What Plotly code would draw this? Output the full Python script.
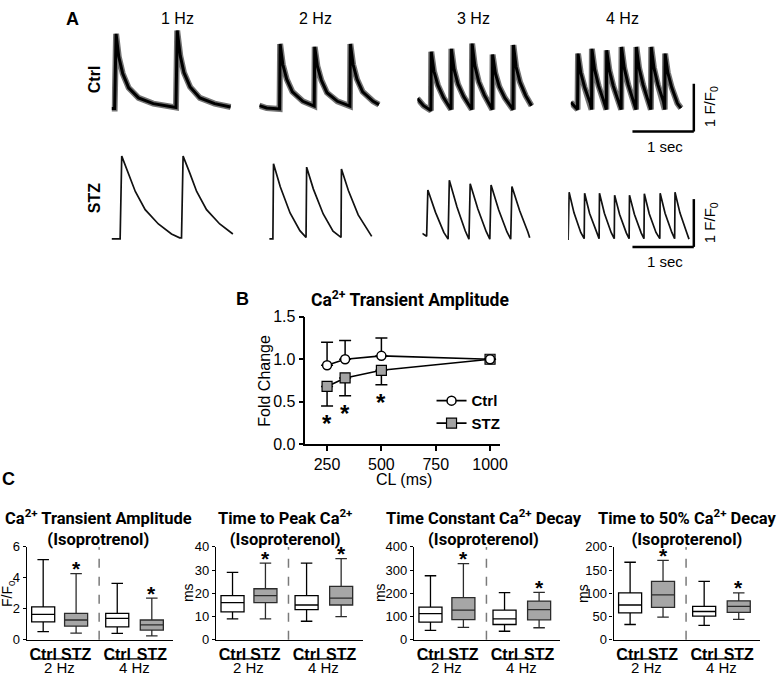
import plotly.graph_objects as go

W, H = 781, 682
SANS = "Liberation Sans, Arial, Helvetica, sans-serif"
TITLE = "Roboto, Liberation Sans, Arial, sans-serif"

# ---------------- Panel A : Ca2+ transients (time s, F/F0 above baseline) ----------------
frequencies = ["1 Hz", "2 Hz", "3 Hz", "4 Hz"]
groups = ["Ctrl", "STZ"]

ctrl_1hz_t = [0, 0.05, 0.074, 0.118, 0.182, 0.279, 0.44, 0.68, 1.05, 1.07, 1.12, 1.18, 1.28, 1.44, 1.68, 1.94]
ctrl_1hz_f = [0.0, 0.0, 1.56, 1.08, 0.73, 0.43, 0.22, 0.10, 0.02, 1.63, 1.10, 0.75, 0.45, 0.22, 0.10, 0.03]

ctrl_2hz_t = [0, 0.12, 0.33, 0.339, 0.383, 0.447, 0.539, 0.709, 0.895, 0.903, 0.947, 1.011, 1.103, 1.273,
              1.476, 1.484, 1.528, 1.592, 1.684, 1.854, 1.95]
ctrl_2hz_f = [0.10, 0.05, 0.03, 1.39, 0.96, 0.65, 0.39, 0.19, 0.09, 1.33, 0.92, 0.63, 0.37, 0.19,
              0.09, 1.39, 0.96, 0.65, 0.39, 0.19, 0.12]

ctrl_3hz_t = [0, 0.1, 0.22, 0.226, 0.27, 0.334, 0.426, 0.548, 0.554, 0.598, 0.662, 0.754, 0.886, 0.892,
              0.936, 1.0, 1.092, 1.22, 1.226, 1.27, 1.334, 1.426, 1.559, 1.565, 1.609, 1.673, 1.765, 1.86]
ctrl_3hz_f = [0.35, 0.2, 0.1, 1.33, 0.92, 0.63, 0.37, 0.12, 1.39, 0.96, 0.65, 0.39, 0.12, 1.50,
              1.04, 0.70, 0.42, 0.12, 1.27, 0.88, 0.60, 0.36, 0.12, 1.47, 1.01, 0.69, 0.41, 0.2]

ctrl_4hz_t = [0, 0.11, 0.118, 0.162, 0.226, 0.318, 0.338, 0.344, 0.388, 0.452, 0.544, 0.579, 0.585, 0.629,
              0.693, 0.785, 0.821, 0.827, 0.871, 0.935, 1.027, 1.063, 1.069, 1.113, 1.177, 1.269, 1.305,
              1.311, 1.355, 1.419, 1.511, 1.531, 1.537, 1.581, 1.645, 1.737, 1.795]
ctrl_4hz_f = [0.27, 0.12, 1.29, 0.89, 0.58, 0.25, 0.12, 1.39, 0.96, 0.62, 0.27, 0.12, 1.36, 0.94,
              0.61, 0.26, 0.12, 1.43, 0.99, 0.64, 0.28, 0.12, 1.43, 0.99, 0.64, 0.28, 0.12,
              1.43, 0.99, 0.64, 0.28, 0.12, 1.29, 0.89, 0.58, 0.25, 0.15]

stz_1hz_t = [0, 0.14, 0.166, 0.28, 0.387, 0.548, 0.763, 0.977, 1.11, 1.14, 1.166, 1.28, 1.387, 1.548, 1.763, 1.977]
stz_1hz_f = [0.0, 0.0, 1.73, 1.36, 0.99, 0.61, 0.31, 0.10, 0.02, 0.02, 1.73, 1.36, 0.99, 0.61, 0.31, 0.10]

stz_2hz_t = [0, 0.06, 0.07, 0.18, 0.34, 0.50, 0.60, 0.61, 0.72, 0.88, 1.04, 1.17, 1.177, 1.29, 1.45, 1.61, 1.67]
stz_2hz_f = [0.0, 0.0, 1.57, 1.09, 0.54, 0.17, 0.03, 1.50, 1.04, 0.52, 0.16, 0.03, 1.46, 1.01, 0.50, 0.16, 0.05]

stz_3hz_t = [0, 0.07, 0.09, 0.215, 0.35, 0.42, 0.44, 0.565, 0.70, 0.76, 0.78, 0.905, 1.04, 1.10, 1.12,
             1.245, 1.38, 1.44, 1.46, 1.585, 1.72, 1.75]
stz_3hz_f = [0.14, 0.08, 1.05, 0.58, 0.16, 0.02, 1.25, 0.69, 0.19, 0.02, 1.18, 0.65, 0.18, 0.02, 1.15,
             0.63, 0.17, 0.02, 1.12, 0.62, 0.17, 0.05]

stz_4hz_t = [0, 0.016, 0.096, 0.206, 0.262, 0.269, 0.349, 0.459, 0.505, 0.511, 0.591, 0.701, 0.752, 0.758,
             0.838, 0.948, 0.994, 1.0, 1.08, 1.19, 1.236, 1.242, 1.322, 1.432, 1.494, 1.5, 1.58, 1.69,
             1.736, 1.742, 1.822, 1.932, 1.97]
stz_4hz_f = [0.0, 1.0, 0.57, 0.16, 0.03, 0.98, 0.56, 0.16, 0.03, 0.98, 0.56, 0.16, 0.03, 0.94,
             0.54, 0.15, 0.03, 0.94, 0.54, 0.15, 0.03, 0.97, 0.55, 0.16, 0.03, 0.98, 0.56, 0.16,
             0.03, 1.0, 0.57, 0.16, 0.02]

# ---------------- Panel B : fold change of amplitude vs cycle length ----------------
cl_ms = [250, 333, 500, 1000]
ctrl_fold = [0.93, 1.00, 1.04, 1.00]
ctrl_err_up = [0.27, 0.22, 0.21, 0.0]
stz_fold = [0.68, 0.78, 0.87, 1.00]
stz_err_down = [0.23, 0.21, 0.17, 0.0]
b_significant = [True, True, True, False]

# ---------------- Panel C : box plots (Ctrl 2Hz, STZ 2Hz, Ctrl 4Hz, STZ 4Hz) ----------------
box_groups = ["Ctrl", "STZ", "Ctrl", "STZ"]
freq_groups = ["2 Hz", "4 Hz"]
c_titles = ["Ca<sup>2+</sup> Transient Amplitude<br>(Isoprotrenol)",
            "Time to Peak Ca<sup>2+</sup><br>(Isoproterenol)",
            "Time Constant Ca<sup>2+</sup> Decay<br>(Isoproterenol)",
            "Time to 50% Ca<sup>2+</sup> Decay<br>(Isoproterenol)"]
c_units = ["F/F<sub>0</sub>", "ms", "ms", "ms"]
c_ymax = [6, 40, 400, 200]
c_dtick = [2, 10, 100, 50]

amp_min = [0.53, 0.44, 0.42, 0.25]
amp_q1 = [1.16, 0.88, 0.84, 0.63]
amp_med = [1.64, 1.28, 1.39, 0.97]
amp_q3 = [2.13, 1.71, 1.71, 1.28]
amp_max = [5.18, 4.27, 3.64, 2.69]

ttp_min = [9, 9, 8, 10]
ttp_q1 = [12, 16, 13, 15]
ttp_med = [16, 19, 15, 18]
ttp_q3 = [19, 22, 19, 23]
ttp_max = [29, 33, 33, 35]

tau_min = [41, 54, 37, 52]
tau_q1 = [76, 87, 66, 86]
tau_med = [113, 128, 90, 130]
tau_q3 = [141, 182, 128, 167]
tau_max = [276, 328, 203, 204]

t50_min = [33, 49, 31, 44]
t50_q1 = [58, 70, 51, 59]
t50_med = [75, 97, 61, 72]
t50_q3 = [101, 126, 72, 84]
t50_max = [167, 171, 126, 101]

c_significant = [False, True, False, True]

# ======================================================================
def PX(x):
    return x / W

def PY(y):
    return 1 - y / H

fig = go.Figure()
layout = {}
annotations = []
shapes = []

def ann(text, x, y, xref="paper", yref="paper", size=14, family=SANS, **kw):
    d = dict(text=text, x=x, y=y, xref=xref, yref=yref, showarrow=False,
             xanchor="center", yanchor="middle", font=dict(size=size, family=family, color="black"))
    d.update(kw)
    annotations.append(d)

def ax_names(i):
    return ("xaxis" if i == 1 else f"xaxis{i}", "yaxis" if i == 1 else f"yaxis{i}",
            "x" if i == 1 else f"x{i}", "y" if i == 1 else f"y{i}")

# ---------- Panel A layout ----------
PX_PER_S, PX_PER_F = 62.0, 49.0
trace_sets = {
    "Ctrl": [(ctrl_1hz_t, ctrl_1hz_f), (ctrl_2hz_t, ctrl_2hz_f), (ctrl_3hz_t, ctrl_3hz_f), (ctrl_4hz_t, ctrl_4hz_f)],
    "STZ": [(stz_1hz_t, stz_1hz_f), (stz_2hz_t, stz_2hz_f), (stz_3hz_t, stz_3hz_f), (stz_4hz_t, stz_4hz_f)],
}
a_x0 = {"Ctrl": [112.7, 262, 421.7, 576.7], "STZ": [112.7, 272, 426.7, 574]}
a_base = {"Ctrl": [103, 105, 110, 110], "STZ": [236.7, 236.7, 238, 238]}
a_rows = {"Ctrl": (8, 130), "STZ": (138, 252)}
span_s = 2.0

idx = 1
for g in groups:
    top, bot = a_rows[g]
    for k, (t, f) in enumerate(trace_sets[g]):
        xa, ya, xr, yr = ax_names(idx)
        x0 = a_x0[g][k]
        base = a_base[g][k]
        layout[xa] = dict(domain=[PX(x0), PX(x0 + span_s * PX_PER_S)], range=[0, span_s],
                          visible=False, anchor=yr)
        layout[ya] = dict(domain=[PY(bot), PY(top)],
                          range=[-(bot - base) / PX_PER_F, (base - top) / PX_PER_F],
                          visible=False, anchor=xr)
        if g == "Ctrl":
            fig.add_trace(go.Scatter(x=t, y=f, mode="lines", xaxis=xr, yaxis=yr,
                                     line=dict(color="rgba(0,0,0,0.55)", width=6),
                                     showlegend=False, hoverinfo="skip"))
            fig.add_trace(go.Scatter(x=t, y=f, mode="lines", xaxis=xr, yaxis=yr,
                                     line=dict(color="black", width=3),
                                     showlegend=False))
        else:
            fig.add_trace(go.Scatter(x=t, y=f, mode="lines", xaxis=xr, yaxis=yr,
                                     line=dict(color="#111", width=1.7),
                                     showlegend=False))
        idx += 1

# panel A texts
ann("<b>A</b>", PX(73), PY(11), size=18)
for fq, cx in zip(frequencies, [179, 319, 478, 629]):
    ann(fq, PX(cx), PY(11), size=16)
for g, cy in zip(groups, [73, 195]):
    ann(f"<b>{g}</b>", PX(95), PY(cy), size=16, textangle=-90)
# scale bars (1 s, 1 F/F0)
for bar_y, lab_y, sec_y in [(126.7, 101, 142), (245, 220, 260)]:
    shapes.append(dict(type="line", xref="paper", yref="paper", x0=PX(701 - PX_PER_S), x1=PX(701),
                       y0=PY(bar_y), y1=PY(bar_y), line=dict(color="black", width=2.5)))
    shapes.append(dict(type="line", xref="paper", yref="paper", x0=PX(701), x1=PX(701),
                       y0=PY(bar_y), y1=PY(bar_y - PX_PER_F), line=dict(color="black", width=2.5)))
    ann("1 F/F<sub>0</sub>", PX(718), PY(lab_y), size=15, textangle=-90)
    ann("1 sec", PX(672), PY(sec_y), size=15)

# ---------- Panel B ----------
bi = 9
xa, ya, xr, yr = ax_names(bi)
axis_common = dict(showline=True, linecolor="black", linewidth=1.5, ticks="outside", ticklen=5,
                   tickwidth=1.5, tickcolor="black", showgrid=False, zeroline=False)
layout[xa] = dict(domain=[PX(308.5), PX(505)], range=[150, 1045], anchor=yr,
                  tickvals=[250, 500, 750, 1000], tickfont=dict(size=16, family=SANS),
                  ticklabelstandoff=0, **axis_common)
layout[ya] = dict(domain=[PY(447.3), PY(316.7)], range=[0, 1.5], anchor=xr,
                  tickvals=[0, 0.5, 1.0, 1.5], tickformat=".1f", tickfont=dict(size=16, family=SANS),
                  **axis_common)

fig.add_trace(go.Scatter(x=cl_ms, y=stz_fold, mode="lines+markers", name="<b>STZ</b>", xaxis=xr, yaxis=yr,
                         line=dict(color="black", width=1.6),
                         marker=dict(symbol="square", size=10, color="#a3a3a3", line=dict(color="black", width=1.2)),
                         error_y=dict(type="data", symmetric=False, array=[0] * len(cl_ms),
                                      arrayminus=stz_err_down, color="black", thickness=1.5, width=6),
                         legendrank=2))
fig.add_trace(go.Scatter(x=cl_ms, y=ctrl_fold, mode="lines+markers", name="<b>Ctrl</b>", xaxis=xr, yaxis=yr,
                         line=dict(color="black", width=1.6),
                         marker=dict(symbol="circle", size=9, color="white", line=dict(color="black", width=1.5)),
                         error_y=dict(type="data", symmetric=False, array=ctrl_err_up,
                                      arrayminus=[0] * len(cl_ms), color="black", thickness=1.5, width=6),
                         legendrank=1))
for x, y, e, s in zip(cl_ms, stz_fold, stz_err_down, b_significant):
    if s:
        ann("<b>*</b>", x, y - e, xref=xr, yref=yr, size=24, yshift=-18)
ann("<b>B</b>", PX(245), PY(298), size=18)
ann("<b>Ca<sup>2+</sup> Transient Amplitude</b>", PX(414), PY(298), size=17.5, family=TITLE)
ann("Fold Change", PX(267), PY(382), size=16, textangle=-90)
ann("CL (ms)", PX(408), PY(484), size=16)

# ---------- Panel C ----------
box_pos = [0, 1, 2.25, 3.3]
divider = 1.7
c_stats = [
    (amp_min, amp_q1, amp_med, amp_q3, amp_max),
    (ttp_min, ttp_q1, ttp_med, ttp_q3, ttp_max),
    (tau_min, tau_q1, tau_med, tau_q3, tau_max),
    (t50_min, t50_q1, t50_med, t50_q3, t50_max),
]
c_axis_x = [27, 218.3, 418.3, 620]
c_width_px = 148
c_title_x = [100, 288, 489, 695]
c_unit_x = [8, 190, 384, 589]
c_top, c_bot = 552.7, 648

for p in range(4):
    i = 10 + p
    xa, ya, xr, yr = ax_names(i)
    layout[xa] = dict(domain=[PX(c_axis_x[p]), PX(c_axis_x[p] + c_width_px)], range=[-0.5, 3.95], anchor=yr,
                      showline=True, linecolor="black", linewidth=1.3, ticks="", showgrid=False, zeroline=False,
                      tickvals=box_pos, ticktext=[f"<b>{g}</b>" for g in box_groups],
                      tickfont=dict(size=16, family=SANS), ticklabelstandoff=0)
    layout[ya] = dict(domain=[PY(c_bot), PY(c_top)], range=[0, c_ymax[p]], anchor=xr, dtick=c_dtick[p],
                      showline=True, linecolor="black", linewidth=1.3, ticks="outside", ticklen=3,
                      tickwidth=1.3, tickcolor="black", showgrid=False, zeroline=False,
                      tickfont=dict(size=13, family=SANS), ticklabelstandoff=0)
    mn, q1, md, q3, mx = c_stats[p]
    for j in range(4):
        stz = box_groups[j] == "STZ"
        fig.add_trace(go.Box(x=[box_pos[j]], q1=[q1[j]], median=[md[j]], q3=[q3[j]],
                             lowerfence=[mn[j]], upperfence=[mx[j]], orientation="v",
                             xaxis=xr, yaxis=yr, width=0.7, whiskerwidth=0.5, boxpoints=False,
                             fillcolor="#a6a6a6" if stz else "white",
                             line=dict(color="#2b2b2b" if stz else "black", width=1.3),
                             showlegend=False))
        if c_significant[j]:
            ann("<b>*</b>", box_pos[j], mx[j], xref=xr, yref=yr, size=21, yshift=5)
    shapes.append(dict(type="line", xref=xr, yref=f"{yr} domain", x0=divider, x1=divider, y0=0, y1=1,
                       line=dict(color="#7a7a7a", width=1.5, dash="dash")))
    for gi, fq in enumerate(freq_groups):
        a, b = box_pos[2 * gi], box_pos[2 * gi + 1]
        shapes.append(dict(type="line", xref=xr, yref="paper", x0=a - 0.36, x1=b + 0.38,
                           y0=PY(667.5), y1=PY(667.5), line=dict(color="black", width=1.3)))
        ann(fq, (a + b) / 2, PY(676), xref=xr, yref="paper", size=15)
    ann(f"<b>{c_titles[p]}</b>", PX(c_title_x[p]), PY(533), size=16.5, family=TITLE)
    ann(c_units[p], PX(c_unit_x[p]), PY(600), size=14, textangle=-90)

ann("<b>C</b>", PX(9), PY(483), size=18)

layout.update(dict(
    width=W, height=H, margin=dict(l=0, r=0, t=0, b=0),
    paper_bgcolor="white", plot_bgcolor="white",
    font=dict(family=SANS, color="black"),
    boxmode="overlay",
    showlegend=True,
    legend=dict(x=PX(436), y=PY(386), xanchor="left", yanchor="top", bgcolor="rgba(0,0,0,0)",
                font=dict(size=15, family=SANS), itemwidth=30, tracegroupgap=0),
    annotations=annotations, shapes=shapes,
))
fig.update_layout(**layout)
fig.write_html("out.html", config={"displayModeBar": False},
               post_script="document.body.style.margin='0px';document.body.style.overflow='hidden';")
